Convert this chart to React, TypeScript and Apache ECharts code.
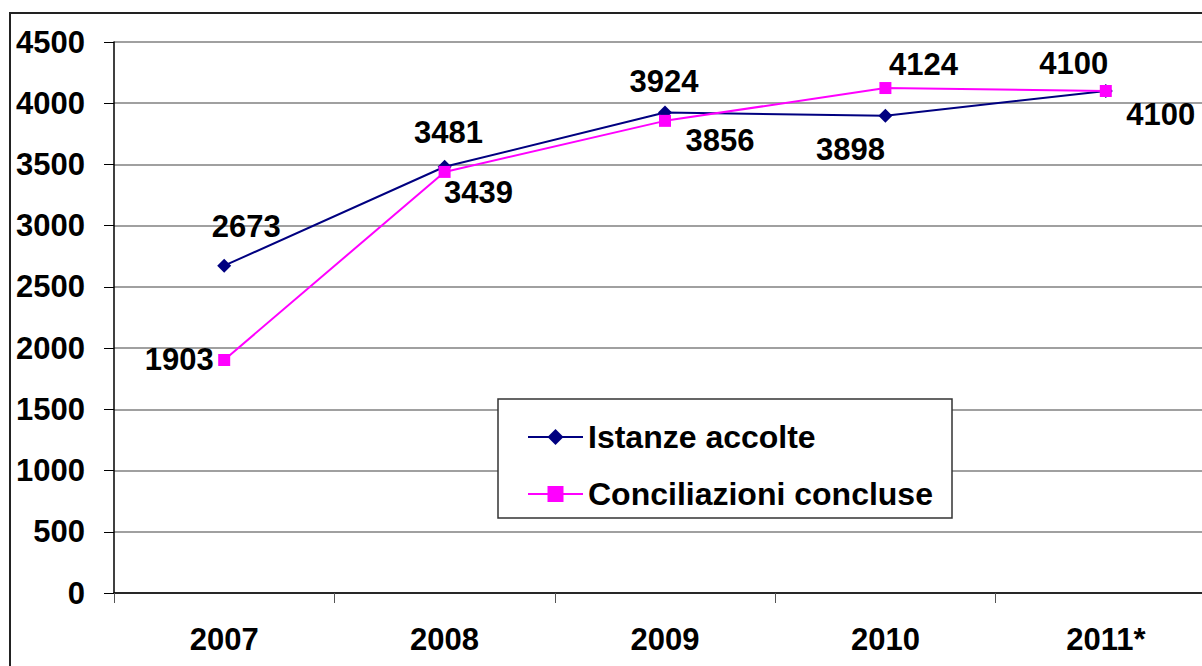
import React, { useEffect, useRef } from "react";
import * as echarts from "echarts";

const categories = ["2007", "2008", "2009", "2010", "2011*"];
const istanzeAccolte = [2673, 3481, 3924, 3898, 4100];
const conciliazioniConcluse = [1903, 3439, 3856, 4124, 4100];
const yTicks = [0, 500, 1000, 1500, 2000, 2500, 3000, 3500, 4000, 4500];

// label offsets (px) relative to the point
const istanzeLabelOffsets = [[22, -39], [4, -34], [-1, -31], [-35, 34], [55, 24]];
const conciliazioniLabelOffsets = [[-45, 0], [34, 21], [55, 20], [38, -24], [-32, -27]];

const FONT = "'Liberation Sans', Arial, sans-serif";

export default function App() {
  const ref = useRef<HTMLDivElement>(null);
  useEffect(() => {
    if (!ref.current) return;
    const chart = echarts.init(ref.current, null, { renderer: "svg" });
    const lbl = (offs: number[][]) => (v: number, i: number) => ({
      value: v,
      label: {
        show: true,
        position: "inside",
        offset: offs[i],
        fontSize: 31,
        fontWeight: "bold",
        fontFamily: FONT,
        color: "#000",
      },
    });
    chart.setOption({
      animation: false,
      backgroundColor: "#fff",
      graphic: [
        {
          type: "rect",
          shape: { x: 10, y: 13, width: 1400, height: 900 },
          style: { fill: "none", stroke: "#222", lineWidth: 2 },
          z: 0,
          silent: true,
        },
        {
          type: "rect",
          shape: { x: 498, y: 399, width: 454, height: 119 },
          style: { fill: "#fff", stroke: "#333", lineWidth: 1.5 },
          z: 5,
          silent: true,
        },
      ],
      legend: {
        orient: "vertical",
        left: 522,
        top: 416,
        itemWidth: 55,
        itemHeight: 20,
        itemGap: 25,
        z: 6,
        textStyle: {
          fontSize: 32,
          lineHeight: 32,
          fontWeight: "bold",
          fontFamily: FONT,
          color: "#000",
        },
        data: ["Istanze accolte", "Conciliazioni concluse"],
      },
      grid: {
        left: 114,
        top: 42,
        width: 1102,
        height: 551,
        outerBoundsMode: "none",
        containLabel: false,
      },
      xAxis: {
        type: "category",
        data: categories,
        boundaryGap: true,
        axisLine: { lineStyle: { color: "#000", width: 1.5 } },
        axisTick: { show: true, length: 10, lineStyle: { color: "#555" } },
        axisLabel: {
          margin: 31,
          fontSize: 31,
          fontWeight: "bold",
          fontFamily: FONT,
          color: "#000",
        },
        splitLine: { show: false },
      },
      yAxis: {
        type: "value",
        min: yTicks[0],
        max: yTicks[yTicks.length - 1],
        interval: 500,
        axisLine: { show: true, lineStyle: { color: "#000", width: 1.5 } },
        axisTick: { show: true, length: 10, lineStyle: { color: "#000" } },
        axisLabel: {
          margin: 29,
          fontSize: 31,
          fontWeight: "bold",
          fontFamily: FONT,
          color: "#000",
          formatter: (v: number) => String(v),
        },
        splitLine: { show: true, lineStyle: { color: "#808080", width: 1.5 } },
      },
      series: [
        {
          name: "Istanze accolte",
          type: "line",
          data: istanzeAccolte.map(lbl(istanzeLabelOffsets)),
          symbol: "diamond",
          symbolSize: 14,
          color: "#000080",
          lineStyle: { color: "#000080", width: 2 },
          itemStyle: { color: "#000080" },
          z: 2,
        },
        {
          name: "Conciliazioni concluse",
          type: "line",
          data: conciliazioniConcluse.map(lbl(conciliazioniLabelOffsets)),
          symbol: "rect",
          symbolSize: 12,
          color: "#ff00ff",
          lineStyle: { color: "#ff00ff", width: 2 },
          itemStyle: { color: "#ff00ff" },
          z: 3,
        },
      ],
    });
    return () => chart.dispose();
  }, []);
  return (
    <div
      ref={ref}
      style={{ position: "absolute", left: 0, top: 0, width: 1202, height: 666 }}
    />
  );
}
